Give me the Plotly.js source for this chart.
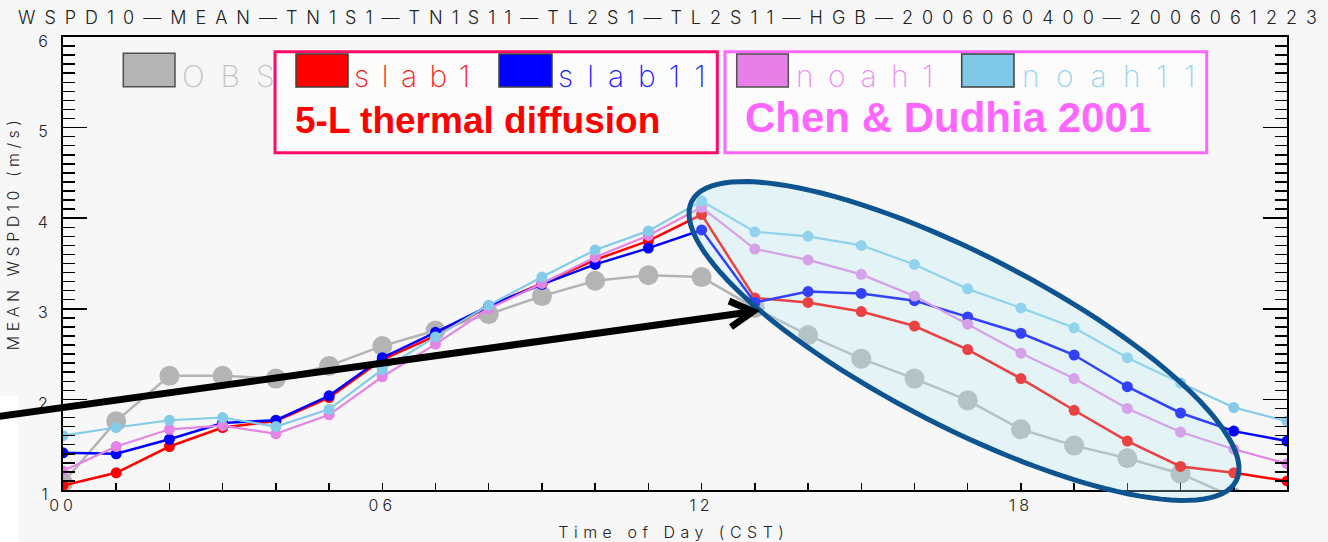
<!DOCTYPE html>
<html>
<head>
<meta charset="utf-8">
<script src="https://cdn.plot.ly/plotly-3.0.1.min.js"></script>
<style>
  html, body { margin: 0; padding: 0; background: #f7f7f7; }
  #chart { width: 1328px; height: 542px; }
  .gtitle { letter-spacing: 9px; }
  .xtick text { letter-spacing: 4px; }
  .annotation[data-index="0"] text { letter-spacing: 4.5px; }
  .annotation[data-index="1"] text { letter-spacing: 5.5px; }
  .annotation[data-index="2"] text { letter-spacing: 16px; }
  .annotation[data-index="3"] text { letter-spacing: 12.5px; }
  .annotation[data-index="4"] text { letter-spacing: 14px; }
  .annotation[data-index="5"] text { letter-spacing: 14.5px; }
  .annotation[data-index="6"] text { letter-spacing: 16.5px; }
</style>
</head>
<body>
<div id="chart"></div>
<script>
// ---- data ----
const hours = [0,1,2,3,4,5,6,7,8,9,10,11,12,13,14,15,16,17,18,19,20,21,22,23];
const obs    = [1.08,1.76,2.26,2.26,2.23,2.37,2.59,2.76,2.94,3.14,3.31,3.37,3.35,3.01,2.71,2.45,2.23,1.99,1.67,1.49,1.35,1.18,0.92,null];
const slab1  = [1.05,1.19,1.48,1.69,1.76,2.02,2.44,2.70,3.03,3.28,3.54,3.75,4.04,3.12,3.07,2.97,2.81,2.55,2.23,1.88,1.54,1.26,1.19,1.10];
const slab11 = [1.41,1.40,1.56,1.74,1.77,2.04,2.46,2.74,3.03,3.27,3.49,3.67,3.87,3.07,3.19,3.17,3.09,2.91,2.73,2.49,2.14,1.85,1.65,1.54];
const noah1  = [1.21,1.48,1.67,1.71,1.62,1.83,2.25,2.61,3.00,3.28,3.57,3.81,4.12,3.66,3.54,3.38,3.14,2.83,2.51,2.23,1.90,1.64,1.45,1.29];
const noah11 = [1.60,1.69,1.77,1.80,1.70,1.89,2.33,2.69,3.04,3.35,3.65,3.86,4.19,3.85,3.80,3.70,3.49,3.22,3.01,2.79,2.46,2.18,1.91,1.76];
const seriesNames = ['OBS','slab1','slab11','noah1','noah11'];
const xTickVals = [0,6,12,18];
const xTickText = ['00','06','12','18'];
const titleText = 'WSPD10\u2014MEAN\u2014TN1S1\u2014TN1S11\u2014TL2S1\u2014TL2S11\u2014HGB\u20142006060400\u20142006061223';
const xTitle = 'Time of Day (CST)';
const yTitle = 'MEAN WSPD10 (m/s)';
const groupLabels = ['5-L thermal diffusion', 'Chen & Dudhia 2001'];

// ---- styling ----
const colors = ['#b4b4b4', '#ff0000', '#0000ff', '#e285e6', '#84cbea'];
const textColors = ['#c4c4c4', '#ff2020', '#2020ff', '#ee90ee', '#98d4f0'];
const thin = 'Inter, "DejaVu Sans", sans-serif';

// plot geometry (pixels) for placing decorations
const L = 63, T = 37, W = 1224, H = 453;
const px = x => (x - L) / W;
const py = y => (T + H - y) / H;

const traces = [
  {x: hours, y: obs, name: seriesNames[0], mode: 'lines+markers', connectgaps: false,
   line: {color: colors[0], width: 2.5}, marker: {color: colors[0], size: 20}},
  {x: hours, y: slab1, name: seriesNames[1], mode: 'lines+markers',
   line: {color: colors[1], width: 2.5}, marker: {color: colors[1], size: 11}},
  {x: hours, y: slab11, name: seriesNames[2], mode: 'lines+markers',
   line: {color: colors[2], width: 2.5}, marker: {color: colors[2], size: 11}},
  {x: hours, y: noah1, name: seriesNames[3], mode: 'lines+markers',
   line: {color: colors[3], width: 2.2}, marker: {color: colors[3], size: 11}},
  {x: hours, y: noah11, name: seriesNames[4], mode: 'lines+markers',
   line: {color: colors[4], width: 2.2}, marker: {color: colors[4], size: 11}}
];

// ellipse outline (decoration)
function ellipsePath(cx, cy, a, b, deg, n) {
  const th = deg * Math.PI / 180, c = Math.cos(th), s = Math.sin(th);
  let d = '';
  for (let i = 0; i <= n; i++) {
    const t = 2 * Math.PI * i / n;
    const ex = a * Math.cos(t), ey = b * Math.sin(t);
    const X = cx + ex * c - ey * s, Y = cy + ex * s + ey * c;
    d += (i === 0 ? 'M' : 'L') + px(X).toFixed(5) + ',' + py(Y).toFixed(5);
  }
  return d + 'Z';
}

function rect(x0, y0, x1, y1, fill, lineColor, lw, layer) {
  return {type: 'rect', xref: 'paper', yref: 'paper', x0: px(x0), x1: px(x1), y0: py(y1), y1: py(y0),
          fillcolor: fill, line: {color: lineColor, width: lw}, layer: layer || 'above'};
}

const shapes = [
  rect(0, 396, 18, 542, '#ffffff', 'rgba(0,0,0,0)', 0, 'below'),
  {type: 'path', xref: 'paper', yref: 'paper', path: ellipsePath(964, 341, 306, 86, 27.2, 120),
   fillcolor: 'rgba(180,235,240,0.28)', line: {color: '#0d5490', width: 5}, layer: 'above'},
  {type: 'line', xref: 'paper', yref: 'paper', x0: px(-5), y0: py(417), x1: px(750), y1: py(312),
   line: {color: '#000000', width: 7}, layer: 'above'},
  {type: 'path', xref: 'paper', yref: 'paper',
   path: 'M' + px(729) + ',' + py(301) + 'L' + px(753) + ',' + py(311.5) + 'L' + px(731) + ',' + py(327),
   line: {color: '#000000', width: 7}, layer: 'above'},
  rect(275, 51.7, 717.3, 152.7, '#fcfcfc', '#ff0a66', 3),
  rect(725, 51.7, 1206.7, 152.7, '#fcfcfc', '#ff66ff', 3),
  rect(123.3, 53.3, 175, 86.7, colors[0], '#505050', 1.5),
  rect(296, 54, 348, 87, colors[1], '#404040', 1.5),
  rect(499, 54, 552, 87, colors[2], '#404040', 1.5),
  rect(736.7, 54, 788.3, 87, '#e680e6', '#505050', 1.5),
  rect(961.7, 54, 1014, 87, '#80c8e8', '#404040', 1.5)
];

function legText(txt, x, color) {
  return {text: txt, xref: 'paper', yref: 'paper', x: px(x), y: py(76), xanchor: 'left', yanchor: 'middle',
          align: 'left', showarrow: false, font: {family: thin, size: 30, color: color, weight: 200}};
}

const annotations = [
  {text: yTitle, xref: 'paper', yref: 'paper', x: px(12.5), y: py(233.5), textangle: -90,
   xanchor: 'center', yanchor: 'middle', showarrow: false,
   font: {family: thin, size: 16, color: '#222', weight: 300}},
  {text: xTitle, xref: 'paper', yref: 'paper', x: px(674), y: py(532),
   xanchor: 'center', yanchor: 'middle', showarrow: false,
   font: {family: thin, size: 16, color: '#222', weight: 300}},
  legText(seriesNames[0], 180, textColors[0]),
  legText(seriesNames[1], 352, textColors[1]),
  legText(seriesNames[2], 556, textColors[2]),
  legText(seriesNames[3], 794, textColors[3]),
  legText(seriesNames[4], 1020, textColors[4]),
  {text: '<b>' + groupLabels[0] + '</b>', xref: 'paper', yref: 'paper', x: px(293), y: py(120.5),
   xanchor: 'left', yanchor: 'middle', showarrow: false,
   font: {family: '"Liberation Sans", Arial, sans-serif', size: 37, color: '#ff0000'}},
  {text: '<b>' + groupLabels[1] + '</b>', xref: 'paper', yref: 'paper', x: px(743), y: py(117),
   xanchor: 'left', yanchor: 'middle', showarrow: false,
   font: {family: '"Liberation Sans", Arial, sans-serif', size: 42, color: '#ff66ff'}}
];

const layout = {
  width: 1328, height: 542,
  margin: {l: L, r: 1328 - L - W, t: T, b: 542 - T - H, pad: 0},
  paper_bgcolor: '#f7f7f7', plot_bgcolor: '#f7f7f7',
  showlegend: false,
  title: {text: titleText, xref: 'container', yref: 'container', x: 0.506, y: 1 - 18 / 542,
          xanchor: 'center', yanchor: 'middle',
          font: {family: thin, size: 18, color: '#222', weight: 300}},
  xaxis: {range: [0, 23], tickmode: 'array', tickvals: xTickVals, ticktext: xTickText,
          ticks: 'inside', ticklen: 7, tickwidth: 1.5, tickcolor: '#000',
          minor: {tickmode: 'linear', tick0: 0, dtick: 1, ticks: 'inside', ticklen: 7, tickwidth: 1.5, tickcolor: '#000', showgrid: false},
          showline: true, linecolor: '#000', linewidth: 2, mirror: true,
          showgrid: false, zeroline: false,
          tickfont: {family: thin, size: 16, color: '#222', weight: 300}},
  yaxis: {range: [1, 6], tickmode: 'linear', tick0: 1, dtick: 1,
          ticks: 'inside', ticklen: 24, tickwidth: 1.5, tickcolor: '#000',
          minor: {tickmode: 'linear', tick0: 1, dtick: 0.1, ticks: 'inside', ticklen: 12, tickwidth: 1.5, tickcolor: '#000', showgrid: false},
          showline: true, linecolor: '#000', linewidth: 2, mirror: 'ticks',
          showgrid: false, zeroline: false, ticklabelstandoff: 10, ticklabelshift: 4,
          tickfont: {family: thin, size: 16, color: '#222', weight: 300}},
  shapes: shapes,
  annotations: annotations
};

Plotly.newPlot('chart', traces, layout, {displayModeBar: false, staticPlot: true});
</script>
</body>
</html>
